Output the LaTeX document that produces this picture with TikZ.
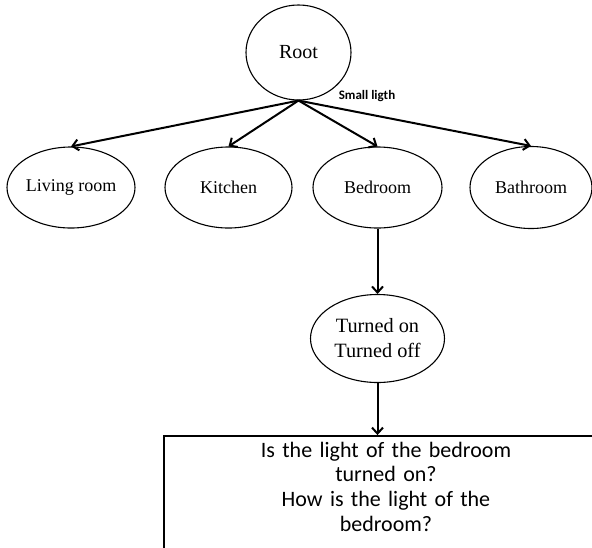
\documentclass[tikz,border=0pt]{standalone}
\usepackage{fontspec}
\setmainfont{Liberation Serif}
\newfontfamily\calibri{Carlito}
\usetikzlibrary{shapes.geometric, arrows.meta, positioning}

\begin{document}
\begin{tikzpicture}[on grid, auto,
    room/.style = {ellipse, draw, line width=1.1pt, inner sep=0pt, font=\fontsize{18}{22}\selectfont}]
    \useasboundingbox (0pt,0pt) rectangle (592pt,-547pt);
    \clip (0pt,0pt) rectangle (592pt,-547pt);

        \node (root) [room, minimum width=105pt, minimum height=95pt, font=\fontsize{20}{24}\selectfont] at (298.5pt,-52.5pt) {Root};
        \node (living) [room, below left = 135pt and 227.5pt of root, minimum width=128pt, minimum height=81pt] {Living room};
        \node (kitchen) [room, right = 157.5pt of living, minimum width=127pt, minimum height=81pt] {Kitchen};
        \node (bedroom) [room, right = 149pt of kitchen, minimum width=129pt, minimum height=81pt] {Bedroom};
        \node (bathroom) [room, right = 153.5pt of bedroom, minimum width=122pt, minimum height=82pt] {Bathroom};
        \node (state) [room, below = 151pt of bedroom, minimum width=134pt, minimum height=88pt, align=center, font=\fontsize{20.3}{25}\selectfont] {Turned on\\Turned off};
        \node (question) [draw, line width=1.6pt, below = 52pt of state.south, anchor=north, xshift=8.5pt, text width=444pt, inner xsep=0pt, inner ysep=6pt, align=center, font=\calibri\fontsize{22}{24.7}\selectfont] {Is the light of the bedroom\\turned on?\\How is the light of the\\bedroom?\rule[-30pt]{0pt}{0pt}};
        \node (note) [above right = 5pt and 68.5pt of root.south, anchor=center, font=\calibri\bfseries\fontsize{13}{15}\selectfont] {Small ligth};

        \path [-{Straight Barb[length=6pt, width=11pt]}, line width=2pt]
            (root.south) edge (living.north)
            (root.south) edge (kitchen.north)
            (root.south) edge (bedroom.north)
            (root.south) edge (bathroom.north)
            (bedroom) edge (state)
            (state.south) edge (state.south |- question.north);

\end{tikzpicture}
\end{document}
